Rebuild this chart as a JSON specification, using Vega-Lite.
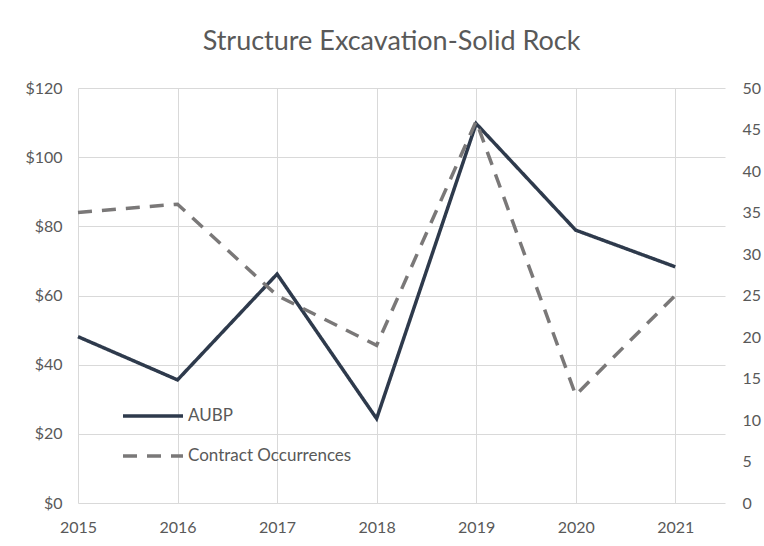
{
  "$schema": "https://vega.github.io/schema/vega-lite/v6.json",
  "autosize": "none",
  "width": 647,
  "height": 415,
  "padding": {"left": 78, "top": 88, "right": 39, "bottom": 43},
  "background": "white",
  "title": {
    "text": "Structure Excavation-Solid Rock",
    "font": "Lato",
    "fontSize": 27,
    "fontWeight": "normal",
    "color": "#595959",
    "anchor": "middle",
    "offset": 24,
    "dx": -10
  },
  "config": {
    "view": {"stroke": null},
    "font": "Lato",
    "axis": {
      "labelFont": "Lato",
      "labelFontSize": 16,
      "labelColor": "#595959",
      "domain": false,
      "ticks": false,
      "title": null,
      "gridColor": "#D9D9D9",
      "gridWidth": 1
    },
    "legend": {"labelFont": "Lato", "labelFontSize": 17, "labelColor": "#595959", "labelLimit": 400}
  },
  "data": {
    "values": [
      {"year": 2015, "AUBP": 48.1, "occ": 35},
      {"year": 2016, "AUBP": 35.6, "occ": 36},
      {"year": 2017, "AUBP": 66.2, "occ": 25},
      {"year": 2018, "AUBP": 24.4, "occ": 19},
      {"year": 2019, "AUBP": 109.7, "occ": 46},
      {"year": 2020, "AUBP": 78.9, "occ": 13},
      {"year": 2021, "AUBP": 68.3, "occ": 25}
    ]
  },
  "encoding": {
    "x": {
      "field": "year",
      "type": "quantitative",
      "scale": {"domain": [2015, 2021.5], "nice": false, "zero": false},
      "axis": {
        "values": [2015, 2016, 2017, 2018, 2019, 2020, 2021],
        "format": "d",
        "labelPadding": 16,
        "grid": true,
        "labelFlush": false
      }
    }
  },
  "layer": [
    {
      "mark": {"type": "line", "strokeWidth": 3.5, "strokeCap": "butt", "strokeJoin": "miter"},
      "encoding": {
        "y": {
          "field": "AUBP",
          "type": "quantitative",
          "scale": {"domain": [0, 120], "nice": false},
          "axis": {
            "values": [0, 20, 40, 60, 80, 100, 120],
            "format": "$.0f",
            "labelPadding": 16,
            "grid": true
          }
        },
        "color": {
          "datum": "AUBP",
          "type": "nominal",
          "scale": {"domain": ["AUBP", "Contract Occurrences"], "range": ["#2E3A4C", "#7A7878"]},
          "legend": {
            "title": null,
            "orient": "none",
            "legendX": 43,
            "legendY": 296,
            "symbolType": "stroke",
            "symbolSize": 3600,
            "symbolStrokeWidth": 3.5,
            "rowPadding": -28,
            "labelOffset": 3,
            "labelLimit": 400,
            "padding": 0
          }
        },
        "strokeDash": {
          "datum": "AUBP",
          "type": "nominal",
          "scale": {"domain": ["AUBP", "Contract Occurrences"], "range": [[1, 0], [14, 10]]},
          "legend": {
            "title": null,
            "orient": "none",
            "legendX": 43,
            "legendY": 296,
            "symbolType": "stroke",
            "symbolSize": 3600,
            "symbolStrokeWidth": 3.5,
            "rowPadding": -28,
            "labelOffset": 3,
            "labelLimit": 400,
            "padding": 0
          }
        }
      }
    },
    {
      "mark": {"type": "line", "strokeWidth": 3.5, "strokeCap": "butt", "strokeJoin": "miter"},
      "encoding": {
        "y": {
          "field": "occ",
          "type": "quantitative",
          "scale": {"domain": [0, 50], "nice": false},
          "axis": {
            "orient": "right",
            "values": [0, 5, 10, 15, 20, 25, 30, 35, 40, 45, 50],
            "labelPadding": 17,
            "grid": false
          }
        },
        "color": {"datum": "Contract Occurrences", "type": "nominal"},
        "strokeDash": {"datum": "Contract Occurrences", "type": "nominal"}
      }
    }
  ],
  "resolve": {"scale": {"y": "independent"}, "axis": {"y": "independent"}}
}
